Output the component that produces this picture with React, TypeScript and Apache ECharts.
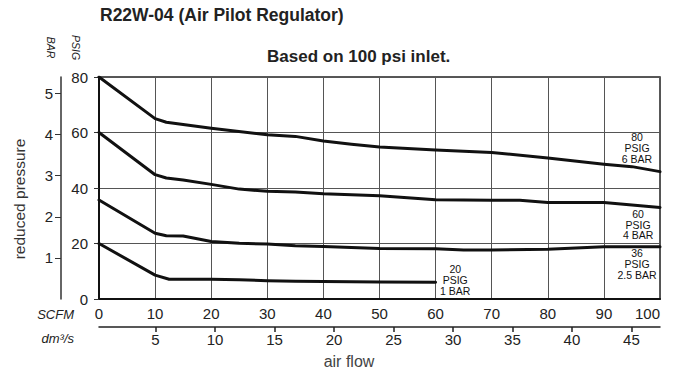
import React, { useEffect, useRef } from "react";
import * as echarts from "echarts";

// SCFM air flow (x) and reduced pressure in PSIG (y) for each set pressure
const scfm80 = [0, 10, 12, 20, 30, 35, 40, 45, 50, 60, 70, 80, 90, 95, 100];
const psig80 = [80, 65, 63.7, 61.5, 59.2, 58.6, 56.9, 55.8, 54.8, 53.7, 52.8, 50.8, 48.6, 47.7, 45.9];

const scfm60 = [0, 10, 12, 15, 20, 25, 30, 35, 40, 50, 60, 70, 75, 80, 90, 100];
const psig60 = [60, 44.8, 43.6, 42.9, 41.3, 39.6, 38.8, 38.6, 37.9, 37.2, 35.8, 35.6, 35.6, 34.8, 34.8, 33.0];

const scfm36 = [0, 10, 12, 15, 20, 25, 30, 35, 40, 50, 60, 65, 70, 80, 90, 100];
const psig36 = [35.7, 23.7, 22.8, 22.7, 20.7, 20.1, 19.8, 19.2, 18.9, 18.2, 18.1, 17.7, 17.7, 17.9, 18.8, 18.8];

const scfm20 = [0, 10, 12.5, 20, 25, 30, 35, 40, 50, 60];
const psig20 = [20, 8.6, 7.1, 7.1, 6.9, 6.6, 6.4, 6.3, 6.1, 6.0];

// curve labels: text and [scfm, psig] anchor
const curveLabels = ["80\nPSIG\n6 BAR", "60\nPSIG\n4 BAR", "36\nPSIG\n2.5 BAR", "20\nPSIG\n1 BAR"];
const labelAnchors: [number, number][] = [
  [95.9, 54.4],
  [96.1, 26.8],
  [95.9, 12.6],
  [63.5, 6.8],
];

// tick values
const barTicks = [1, 2, 3, 4, 5];
const dm3Ticks = [5, 10, 15, 20, 25, 30, 35, 40, 45];

const FONT = "'Liberation Sans', Arial, Helvetica, sans-serif";

function pairs(xs: number[], ys: number[]) {
  return xs.map((x, i) => [x, ys[i]]);
}

export default function App() {
  const ref = useRef<HTMLDivElement>(null);

  useEffect(() => {
    if (!ref.current) return;
    const chart = echarts.init(ref.current, undefined, { renderer: "svg" });

    const curves = [
      pairs(scfm80, psig80),
      pairs(scfm60, psig60),
      pairs(scfm36, psig36),
      pairs(scfm20, psig20),
    ];

    const series = curves.map((data, i) => ({
      type: "line",
      xAxisIndex: 0,
      yAxisIndex: 0,
      data,
      symbol: "none",
      smooth: false,
      lineStyle: { color: "#111", width: 3, join: "round", cap: "round" },
      z: 5,
      markPoint: {
        symbol: "circle",
        symbolSize: 1,
        itemStyle: { color: "rgba(0,0,0,0)" },
        label: {
          show: true,
          position: "inside",
          formatter: curveLabels[i],
          fontSize: 10.5,
          lineHeight: 10.8,
          color: "#111",
          fontFamily: FONT,
          align: "center",
          verticalAlign: "middle",
        },
        data: [{ coord: labelAnchors[i] }],
      },
    }));

    const option: any = {
      animation: false,
      backgroundColor: "#fff",
      grid: {
        left: 99,
        right: 18,
        top: 77,
        bottom: 75,
        show: true,
        borderColor: "#222",
        borderWidth: 1.5,
      },
      xAxis: [
        {
          type: "value",
          min: 0,
          max: 100,
          interval: 10,
          position: "bottom",
          axisLine: { show: true, lineStyle: { color: "#111", width: 2 } },
          axisTick: { show: false },
          axisLabel: {
            fontSize: 15,
            color: "#222",
            fontFamily: FONT,
            margin: 7,
            alignMaxLabel: "right",
          },
          splitLine: { show: true, lineStyle: { color: "#555", width: 1 } },
        },
        {
          type: "value",
          min: 0.25,
          max: 47.4,
          position: "bottom",
          offset: 28,
          axisLine: { show: true, onZero: false, lineStyle: { color: "#222", width: 1.5 } },
          axisTick: {
            show: true,
            length: 5,
            customValues: dm3Ticks,
            lineStyle: { color: "#222", width: 1.5 },
          },
          axisLabel: {
            fontSize: 15,
            color: "#222",
            fontFamily: FONT,
            margin: 5,
            customValues: dm3Ticks,
          },
          splitLine: { show: false },
        },
      ],
      yAxis: [
        {
          type: "value",
          min: 0,
          max: 80,
          interval: 20,
          position: "left",
          axisLine: { show: true, lineStyle: { color: "#111", width: 2 } },
          axisTick: { show: true, length: 5, lineStyle: { color: "#333" } },
          axisLabel: {
            fontSize: 15,
            color: "#222",
            fontFamily: FONT,
            margin: 11,
          },
          splitLine: { show: true, lineStyle: { color: "#555", width: 1 } },
        },
        {
          type: "value",
          min: 0,
          max: 5.4,
          position: "left",
          offset: 38,
          axisLine: { show: true, onZero: false, lineStyle: { color: "#333", width: 1.5 } },
          axisTick: {
            show: true,
            length: 6,
            customValues: barTicks,
            lineStyle: { color: "#333", width: 1 },
          },
          axisLabel: {
            fontSize: 15,
            color: "#222",
            fontFamily: FONT,
            margin: 8,
            customValues: barTicks,
          },
          splitLine: { show: false },
        },
      ],
      graphic: [
        {
          type: "text",
          x: 100,
          y: 14.5,
          style: {
            text: "R22W-04 (Air Pilot Regulator)",
            fontSize: 17.5,
            fontWeight: "bold",
            fontFamily: FONT,
            fill: "#222",
            align: "left",
            verticalAlign: "middle",
          },
        },
        {
          type: "text",
          x: 267,
          y: 56.5,
          style: {
            text: "Based on 100 psi inlet.",
            fontSize: 17,
            fontWeight: "bold",
            fontFamily: FONT,
            fill: "#222",
            align: "left",
            verticalAlign: "middle",
          },
        },
        {
          type: "text",
          x: 51,
          y: 47.5,
          rotation: -Math.PI / 2,
          style: {
            text: "BAR",
            fontSize: 10.5,
            fontStyle: "italic",
            fontFamily: FONT,
            fill: "#222",
            align: "center",
            verticalAlign: "middle",
          },
        },
        {
          type: "text",
          x: 75.5,
          y: 47.5,
          rotation: -Math.PI / 2,
          style: {
            text: "PSIG",
            fontSize: 10.5,
            fontStyle: "italic",
            fontFamily: FONT,
            fill: "#222",
            align: "center",
            verticalAlign: "middle",
          },
        },
        {
          type: "text",
          x: 19,
          y: 199,
          rotation: Math.PI / 2,
          style: {
            text: "reduced pressure",
            fontSize: 15.5,
            fontFamily: FONT,
            fill: "#333",
            align: "center",
            verticalAlign: "middle",
          },
        },
        {
          type: "text",
          x: 74,
          y: 314,
          style: {
            text: "SCFM",
            fontSize: 13,
            fontStyle: "italic",
            fontFamily: FONT,
            fill: "#222",
            align: "right",
            verticalAlign: "middle",
          },
        },
        {
          type: "text",
          x: 74,
          y: 338,
          style: {
            text: "dm³/s",
            fontSize: 13,
            fontStyle: "italic",
            fontFamily: FONT,
            fill: "#222",
            align: "right",
            verticalAlign: "middle",
          },
        },
        {
          type: "text",
          x: 349,
          y: 361,
          style: {
            text: "air flow",
            fontSize: 16,
            fontFamily: FONT,
            fill: "#444",
            align: "center",
            verticalAlign: "middle",
          },
        },
      ],
      series,
    };

    chart.setOption(option);
    return () => chart.dispose();
  }, []);

  return (
    <div
      ref={ref}
      style={{ position: "fixed", left: 0, top: 0, width: 678, height: 374, background: "#fff" }}
    />
  );
}
